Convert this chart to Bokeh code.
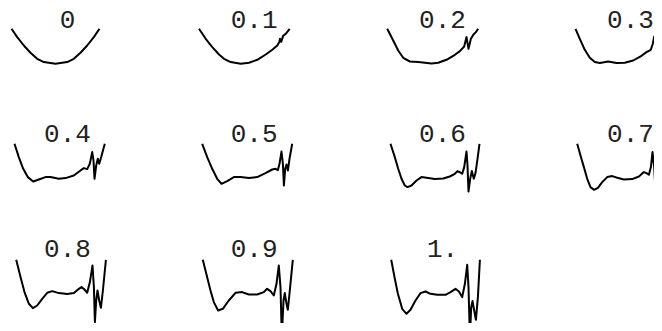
from bokeh.plotting import figure
from bokeh.models import Range1d
from bokeh.core.properties import value
from bokeh.embed import file_html
from bokeh.resources import INLINE

# ---- data: parameter labels and curves (x offset, y value) ----
labels = ["0", "0.1", "0.2", "0.3", "0.4", "0.5", "0.6", "0.7", "0.8", "0.9", "1."]

x_00 = [0, 5.7, 12.3, 19, 25.7, 32.3, 44, 55.7, 62.3, 69, 75.7, 82.3, 88]
y_00 = [0, -8.3, -16.7, -24, -30, -33.3, -35, -33.3, -30, -24, -16.7, -8.3, 0]

x_01 = [0, 6.7, 13.3, 20, 25, 31.7, 41.7, 50, 58.3, 66.7, 73.3, 78.3, 80.3, 81, 82.3, 84, 86.7, 90.7]
y_01 = [0, -10, -18.3, -25.7, -30, -33.3, -35, -34, -31, -25.7, -21, -16.7, -13.3, -10, -13, -7.3, -5, 0]

x_02 = [0, 6, 11, 16, 22.7, 31, 37.7, 44.3, 51, 59.3, 67.7, 72.7, 77, 79.3, 81.3, 83.7, 86.3, 88.7, 91]
y_02 = [0, -11.7, -21.7, -29, -32.7, -33.3, -34, -34.7, -34, -31, -26, -22.3, -17.7, -8.3, -20, -10, -5.7, -3.3, 0]

x_03 = [0, 4.3, 9.3, 14.3, 19.3, 24.3, 32.7, 41, 49.3, 57.7, 66, 71, 75.3, 77.3, 78.7, 80, 81, 82.3, 84, 86, 88, 90]
y_03 = [0, -10, -21, -29, -33.3, -34.3, -32.7, -34.3, -34, -31.7, -27, -23.3, -21, -15, -7.7, -18.3, -26.7, -15, -13.3, -15.7, -8, 0]

x_04 = [0, 4.3, 8.7, 13.3, 18.7, 24.3, 31, 36, 44.3, 51, 59.3, 66, 69.3, 72.7, 75.3, 77.7, 79, 80, 81.7, 83.3, 84.7, 86.7, 90.3]
y_04 = [0, -13.3, -25, -33.3, -37.7, -35.7, -33.3, -33.3, -35, -34.3, -31.7, -26.7, -24.3, -25.3, -20, -8.3, -16.7, -35, -21.7, -15, -20, -13.3, 0]

x_05 = [0, 5, 10, 15, 19.3, 25, 31.7, 38.3, 46.7, 55, 63.3, 70, 73.3, 75.7, 77.3, 79.3, 80.7, 81.7, 83, 84.3, 85.7, 87.3, 90]
y_05 = [0, -13.3, -25, -35, -40, -37.3, -33.3, -33.3, -34.3, -33.3, -29.3, -25.7, -25, -26.3, -20, -7.7, -20, -41.7, -25, -20.7, -26.7, -15, 0]

x_06 = [0, 4.3, 7.7, 11, 14.3, 17, 21, 26, 31, 37.7, 44.3, 52.7, 59.3, 64.3, 67, 69.3, 71.7, 73.7, 76, 77, 78, 79.7, 81.3, 83.3, 85, 87, 89]
y_06 = [0, -13.3, -25, -35, -41.7, -43.3, -41.7, -36.7, -33.3, -34.3, -35.3, -34.7, -32.7, -30, -27.3, -28.3, -30, -23.3, -7.7, -21.7, -47.7, -35, -27.3, -35, -29.3, -15, 0]

x_07 = [0, 3.3, 6.7, 10, 13.3, 16.7, 20.7, 25, 30, 35, 40, 46.7, 55, 61.7, 66.7, 69.3, 71.7, 73.7, 75.3, 77, 78.7, 80.3, 82, 84, 86, 88, 90]
y_07 = [0, -11.7, -23.3, -35, -43.3, -46, -44, -38.3, -33.3, -32.3, -34, -35.7, -35.3, -32.7, -28.3, -29.3, -31, -23.3, -8.3, -23.3, -55, -40, -34, -40, -45, -25, 0]

x_08 = [0, 4.3, 8.3, 12.7, 16.7, 21, 26, 31, 36, 42.7, 51, 57.7, 62.7, 65.3, 68.3, 71, 73.7, 76.3, 77.7, 78.7, 80, 81.3, 83, 84.7, 86.7, 89.7]
y_08 = [0, -17.3, -32.3, -44, -48.3, -45.7, -39, -33, -31.3, -33.3, -34.3, -33.3, -29, -27.3, -29.7, -33, -22.3, -5.7, -27.3, -62.3, -40.7, -30.7, -40.7, -48, -30.7, 0]

x_09 = [0, 4.3, 7.7, 11, 15.3, 20, 26, 32.7, 39.3, 46, 54.3, 61, 64.3, 67.7, 71, 73.7, 76, 77.7, 79, 80.7, 82, 83.7, 85, 87, 90]
y_09 = [0, -17.3, -30.7, -42.3, -50.7, -49, -40.7, -33, -32.3, -34.7, -34.7, -32.3, -29, -31.3, -35.7, -24, -5.7, -27.3, -77, -40.7, -33.3, -44, -50, -30.7, 0]

x_10 = [0, 3.3, 6.7, 11, 15.3, 19.3, 24.3, 29.3, 34.3, 39.3, 46, 54.3, 59.3, 64.3, 67.7, 71, 73.7, 76, 77.3, 78.7, 80, 81.3, 83, 84.7, 86.7, 88.7]
y_10 = [0, -17.3, -34, -49, -54, -50, -40.7, -33.3, -31.7, -34, -35, -35, -32.3, -29, -31.7, -37.3, -24, -5, -27.3, -77.3, -47.3, -41.3, -50.7, -60, -37.3, 0]

curves_x = [x_00, x_01, x_02, x_03, x_04, x_05, x_06, x_07, x_08, x_09, x_10]
curves_y = [y_00, y_01, y_02, y_03, y_04, y_05, y_06, y_07, y_08, y_09, y_10]

# ---- layout (pixel positions of each grid cell) ----
anchor_x = [[11, 198.5, 386.7, 575], [14, 201.7, 390, 576.7], [15.7, 202.3, 390.7]]
anchor_y = [28.3, 143.3, 259.3]
label_x = [67, 253.6, 442, 630]
label_base = [19, 133.3, 248]

W, H = 654, 323
p = figure(width=W, height=H, output_backend="svg", toolbar_location=None,
           x_range=Range1d(0, W), y_range=Range1d(-H, 0),
           min_border=0, min_border_left=0, min_border_right=0,
           min_border_top=0, min_border_bottom=0)
p.axis.visible = False
p.grid.visible = False
p.outline_line_color = None
p.background_fill_color = "white"
p.border_fill_color = "white"

lx, ly, lt = [], [], []
for i, (cx, cy) in enumerate(zip(curves_x, curves_y)):
    r, c = divmod(i, 4)
    ox, oy = anchor_x[r][c], anchor_y[r]
    p.line([ox + v for v in cx], [-oy + v for v in cy],
           line_color="black", line_width=2, line_join="round")
    lx.append(label_x[c])
    ly.append(-label_base[r])
    lt.append(labels[i])

p.text(x=lx, y=ly, text=lt, text_font=value("Liberation Mono"),
       text_font_size="26px", text_align="center", text_baseline="alphabetic",
       text_color="#222222")

open("out.html", "w").write(file_html(p, INLINE))
